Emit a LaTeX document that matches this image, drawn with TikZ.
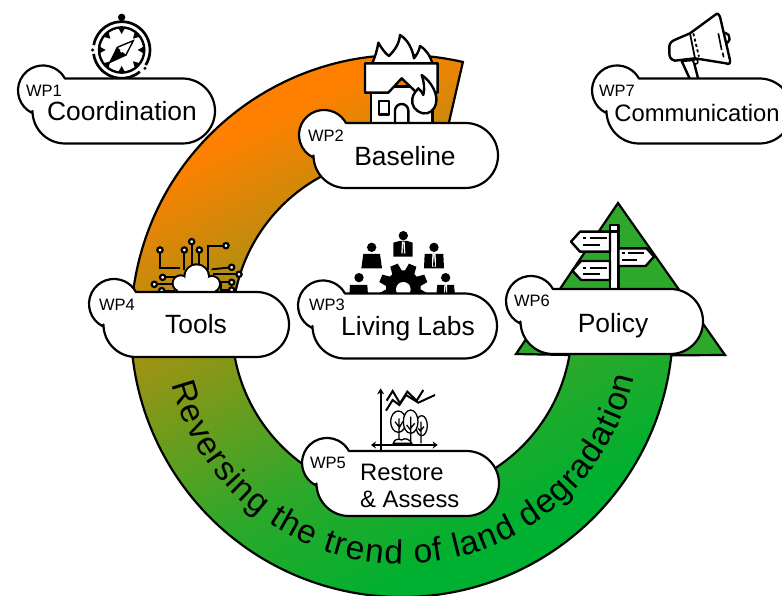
\documentclass[tikz,border=0pt]{standalone}
\usepackage{fontspec}
\setmainfont{Liberation Sans}
\usetikzlibrary{decorations.text,arrows.meta}
\definecolor{bandorange}{HTML}{FF8000}
\definecolor{bandgreen}{HTML}{2EA82A}
\definecolor{bandend}{HTML}{00B030}
\newcommand{\bandpath}{(462.9,62.0) arc[start angle=283,end angle=6.2,radius=271] -- (725,355) -- (618,203) -- (516,354) -- (569.5,355) arc[start angle=9.8,end angle=283,radius=170] -- cycle}
\newcommand{\wpbubble}[4]{%
  \begin{scope}[shift={(#2,#3)}]
    \path[bubble] (32.9,0) -- (#4-32.5,0) arc[start angle=270,end angle=450,radius=32.5] -- (33,65) arc[start angle=90,end angle=180,radius=32.5] -- (0,34.4) arc[start angle=116.1,end angle=331.3,radius=25] -- cycle;
    \coordinate (#1) at (0,0);
  \end{scope}}
\tikzset{
  bubble/.style={draw=black,fill=white,line width=2.2pt,line join=round},
  wplabel/.style={inner sep=0pt,font=\fontsize{16.5}{16.5}\selectfont},
  title/.style={inner sep=0pt,font=\fontsize{26.4}{28}\selectfont},
  subtitle/.style={inner sep=0pt,font=\fontsize{23.8}{28}\selectfont},
  zoomed/.style 2 args={shift={(#1,#2)},x=0.3333pt,y=-0.3333pt},
  icon/.style={draw=black,line width=2.4pt,line join=round,fill=white},
  wire/.style={draw=black,line width=1.9pt},
  term/.style={draw=black,fill=white,line width=2.2pt},
  thin icon/.style={draw=black,line width=1.3pt,fill=white},
}
\begin{document}
\begin{tikzpicture}[x=1pt,y=-1pt]
\useasboundingbox (0,0) rectangle (782,596);
\clip (0,0) rectangle (782,596);
% band with gradient
\begin{scope}
  \path[clip] \bandpath;
  \begin{scope}[transform canvas={rotate around={26.8:(0,0)}}]
    \fill[bandorange] (-1000,-200) rectangle (1800,228.5);
    \shade[top color=bandorange,bottom color=bandgreen] (-1000,228) rectangle (1800,570.5);
    \shade[top color=bandgreen,bottom color=bandend] (-1000,570) rectangle (1800,700.5);
    \fill[bandend] (-1000,700) rectangle (1800,1200);
  \end{scope}
  \fill[bandgreen] (725,355) -- (618,203) -- (516,354) -- cycle;
\end{scope}
\draw[line width=2.2pt,line join=miter] \bandpath;
% ring text
\path[postaction={decorate,decoration={text along path,text align={fit to path},
  text={|\fontsize{33.5}{36}\selectfont|Reversing the trend of land degradation}}}]
  (402,326) ++(0:0) ++(-230.7,58.3) arc[start angle=165.8,end angle=12.4,radius=238];
% compass
\begin{scope}[zoomed={0}{0}]
  \fill (365,52) circle[radius=11];
  \draw[line width=2.6pt] (365,55) -- (365,70);
  \fill[white] (365,150) circle[radius=86];
  \draw[line width=2.7pt] (365,150) ++(190:85) arc[start angle=190,end angle=392,radius=85];
  \draw[line width=2.7pt] (365,150) ++(50:85) arc[start angle=50,end angle=172,radius=85];
  \fill (435,205) circle[radius=5] (278,150) circle[radius=5];
  \draw[line width=2.4pt] (365,150) circle[radius=68];
  \foreach \a in {0,45,...,315}{
    \fill[rotate around={\a:(365,150)}] (355,84) -- (375,84) -- (365,102) -- cycle;
  }
  \draw[line width=1.4pt,fill=white] (400,122) -- (378,165) -- (330,187) -- (352,142) -- cycle;
  \fill (330,187) -- (352,142) -- (378,165) -- cycle;
  \fill[white] (365,153) circle[radius=5];
\end{scope}
% house
\begin{scope}[zoomed={280}{20}]
  \path[icon] (277,130) .. controls (285,110) and (292,90) .. (295,68) .. controls (305,85) and (315,100) .. (327,108) .. controls (345,90) and (358,70) .. (360,45) .. controls (385,60) and (398,90) .. (402,115) .. controls (410,105) and (418,92) .. (420,78) .. controls (440,90) and (452,110) .. (457,130) -- cycle;
  \path[icon] (273,200) rectangle (457,320);
  \path[icon] (255,130) -- (473,130) -- (473,218) -- (410,218) -- (365,175) -- (325,218) -- (255,218) -- cycle;
  \path[icon] (297,243) rectangle (327,283);
  \path[icon] (345,320) -- (345,272) arc[start angle=180,end angle=360,radius=20] -- (385,320);
  \path[icon] (425,165) .. controls (455,185) and (475,225) .. (468,250) .. controls (462,275) and (445,282) .. (430,280) .. controls (405,275) and (393,255) .. (397,235) .. controls (400,220) and (410,212) .. (415,205) .. controls (422,212) and (428,218) .. (430,225) .. controls (435,205) and (432,185) .. (425,165) -- cycle;
\end{scope}
% circuit cloud
\begin{scope}[zoomed={90}{220}]
  \draw[wire] (210,90) -- (210,145) -- (270,145);
  \draw[wire] (283,90) -- (283,150);
  \draw[wire] (305,65) -- (305,140);
  \draw[wire] (328,90) -- (328,140);
  \draw[wire] (408,77) -- (355,77) -- (355,150);
  \draw[wire] (425,142) -- (365,148);
  \draw[wire] (447,163) -- (370,163);
  \draw[wire] (425,187) -- (385,187);
  \draw[wire] (392,187) -- (392,220);
  \draw[wire] (415,210) -- (395,210);
  \draw[wire] (218,172) -- (265,172);
  \draw[wire] (193,193) -- (255,193);
  \draw[wire] (215,212) -- (255,212);
  \foreach \p in {(210,90),(283,90),(305,65),(328,90),(408,77),(425,142),(447,163),(425,187),(218,172),(193,193),(215,212),(425,210)}{
    \path[term] \p circle[radius=8];
  }
  \fill (272,190) circle[radius=27];
  \fill (320,170) circle[radius=40];
  \fill (366,192) circle[radius=27];
  \fill[white] (272,190) circle[radius=21];
  \fill[white] (320,170) circle[radius=34];
  \fill[white] (366,192) circle[radius=21];
  \fill[white] (265,180) rectangle (375,225);
\end{scope}
% people and gear
\begin{scope}[zoomed={300}{220}]
  \fill (310,47) circle[radius=14];
  \fill (280,68) -- (298,63) -- (322,63) -- (338,68) -- (338,110) -- (280,110) -- cycle;
  \fill[white] (306,65) -- (314,65) -- (316,100) -- (304,100) -- cycle;
  \fill (310,66) -- (312,100) -- (308,100) -- cycle;
  \fill (215,82) circle[radius=14];
  \fill (190,102) -- (240,102) -- (246,145) -- (184,145) -- cycle;
  \fill (402,82) circle[radius=14];
  \fill (374,102) -- (430,102) -- (432,145) -- (372,145) -- cycle;
  \fill[white] (397,102) -- (407,102) -- (408,140) -- (396,140) -- cycle;
  \fill (402,104) -- (405,135) -- (402,142) -- (399,135) -- cycle;
  \fill (177,173) circle[radius=14];
  \fill (150,195) -- (202,195) -- (204,225) -- (148,225) -- cycle;
  \fill (437,173) circle[radius=14];
  \fill (412,195) -- (462,195) -- (465,225) -- (409,225) -- cycle;
  \fill[white] (433,195) -- (441,195) -- (442,222) -- (432,222) -- cycle;
  \fill (437,196) -- (439,222) -- (435,222) -- cycle;
  \fill (310,203) circle[radius=52];
  \foreach \a in {0,45,...,315}{
    \fill[rotate around={\a+22.5:(310,203)}] (298,130) -- (322,130) -- (326,160) -- (294,160) -- cycle;
  }
  \fill[white] (310,208) circle[radius=22];
\end{scope}
% signpost
\begin{scope}[zoomed={500}{190}]
  \path[icon] (330,105) rectangle (355,310);
  \draw[line width=2.4pt] (330,125) -- (355,125);
  \path[icon] (213,155) -- (240,125) -- (330,125) -- (330,185) -- (240,185) -- cycle;
  \path[icon] (355,175) -- (440,175) -- (462,200) -- (437,228) -- (355,228) -- cycle;
  \path[icon] (217,242) -- (243,213) -- (330,213) -- (330,270) -- (243,270) -- cycle;
  \draw[line width=2pt] (250,145) -- (258,145) (270,145) -- (320,145) (250,165) -- (300,165);
  \draw[line width=2pt] (367,188) -- (375,188) (385,188) -- (432,188) (367,210) -- (412,210);
  \draw[line width=2pt] (250,233) -- (258,233) (270,233) -- (320,233) (250,253) -- (300,253);
\end{scope}
% chart and trees
\begin{scope}[zoomed={290}{380}]
  \draw[line width=2pt,-{Stealth[length=6pt,width=7pt]}] (272,215) -- (272,25);
  \draw[line width=2pt,{Stealth[length=5pt,width=7pt]}-{Stealth[length=5pt,width=7pt]}] (243,195) -- (443,195);
  \draw[line width=2pt,line join=miter] (290,62) -- (308,33) -- (330,70) -- (352,35) -- (380,62) -- (400,30);
  \draw[line width=2pt,line join=miter] (288,92) -- (308,60) -- (328,75) -- (348,45) -- (385,68) -- (435,45);
  \path[thin icon] (395,137) ellipse[x radius=17,y radius=30];
  \path[thin icon] (325,125) ellipse[x radius=23,y radius=32];
  \path[thin icon] (362,125) ellipse[x radius=22,y radius=35];
  \draw[line width=1.3pt] (327,185) -- (327,115) (315,125) -- (327,140) (338,125) -- (327,145);
  \draw[line width=1.3pt] (362,190) -- (362,110) (350,135) -- (362,150) (374,130) -- (362,145);
  \draw[line width=1.3pt] (393,190) -- (393,125) (385,145) -- (393,155) (402,140) -- (393,150);
  \path[thin icon] (310,190) .. controls (312,178) and (325,175) .. (335,180) .. controls (345,172) and (360,178) .. (365,190) -- cycle;
\end{scope}
% megaphone
\begin{scope}[zoomed={580}{0}]
  \path[icon] (305,183) -- (330,238) -- (355,238) -- (340,180) -- cycle;
  \path[icon] (435,98) arc[start angle=-80,end angle=80,radius=17];
  \path[icon] (288,118) -- (330,100) -- (405,45) .. controls (412,38) and (418,42) .. (420,50) -- (450,180) .. controls (452,192) and (445,194) .. (438,190) -- (345,175) -- (285,182) .. controls (272,180) and (268,170) .. (268,160) -- (268,140) .. controls (268,128) and (278,122) .. (288,118) -- cycle;
  \draw[line width=1.8pt] (330,100) -- (345,175);
  \draw[line width=1.8pt,dash pattern=on 3pt off 2.5pt] (340,100) -- (357,170);
  \draw[line width=1.6pt] (415,100) -- (425,150) (428,158) -- (431,172);
  \path[icon,line width=1.6pt] (347,185) circle[radius=7];
\end{scope}
% bubbles
\wpbubble{b1}{32}{78.5}{183}
\wpbubble{b2}{313}{123}{185}
\wpbubble{b4}{103}{292}{186}
\wpbubble{b3}{312}{293.5}{185}
\wpbubble{b6}{520}{289}{183}
\wpbubble{b5}{316}{451}{183}
\wpbubble{b7}{606}{78.5}{186}
% labels
\node[wplabel] (w1) at (44,91) {WP1};
\node[title] (t1) at (122,111) {Coordination};
\node[wplabel] (w2) at (326,136) {WP2};
\node[title] (t2) at (405,156) {Baseline};
\node[wplabel] (w4) at (117,305) {WP4};
\node[title] (t4) at (196,324) {Tools};
\node[wplabel] (w3) at (327,305) {WP3};
\node[title] (t3) at (408,329) {Living Labs};
\node[wplabel] (w6) at (532,301) {WP6};
\node[title] (t6) at (613,326) {Policy};
\node[wplabel] (w5) at (328,463) {WP5};
\node[subtitle,anchor=west] (t5a) at (360,472) {Restore};
\node[subtitle,anchor=west] (t5b) at (360,499) {\&\ Assess};
\node[wplabel] (w7) at (617,91) {WP7};
\node[subtitle] (t7) at (697,113) {Communication};
\end{tikzpicture}
\end{document}
